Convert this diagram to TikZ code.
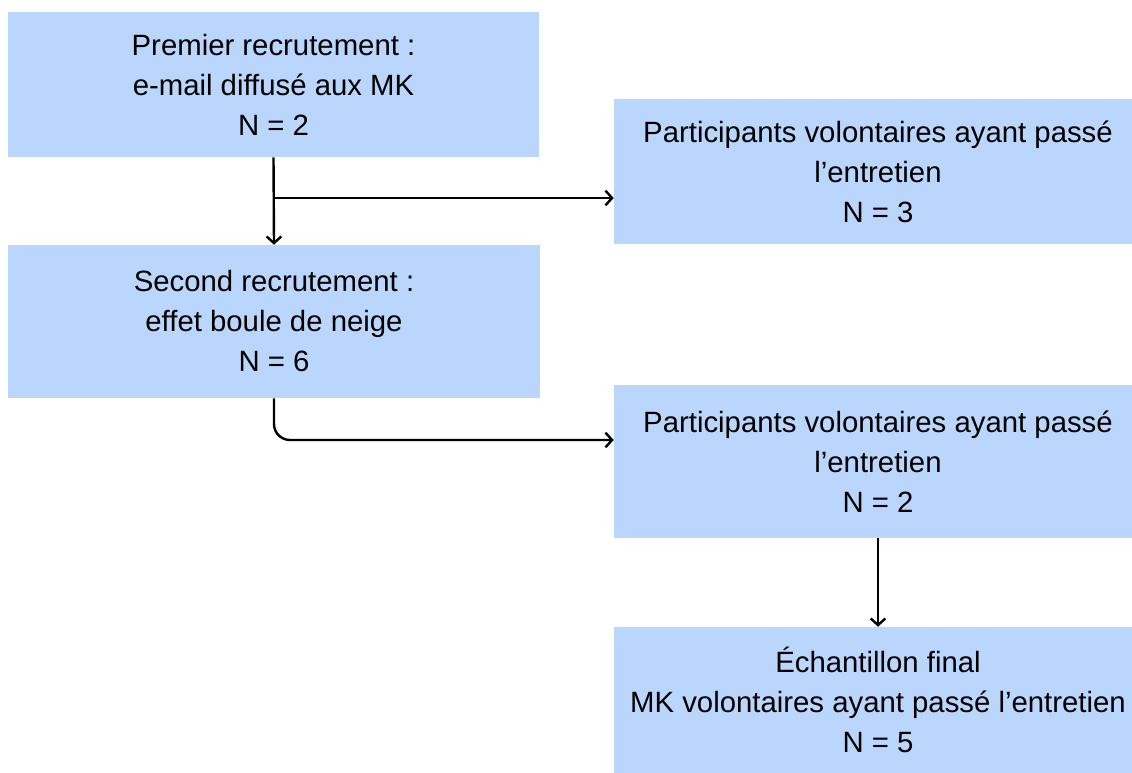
\documentclass[tikz,border=0pt]{standalone}
\usepackage{fontspec}
\setmainfont{Liberation Sans}
\usepackage{tikz}
\usetikzlibrary{calc,arrows.meta}
\definecolor{boxblue}{RGB}{186,214,252}

\begin{document}
\begin{tikzpicture}[x=0.75pt,y=-0.75pt,
		box/.style={fill=boxblue, draw=none, inner sep=0pt, align=center,
			font=\fontsize{22}{30}\selectfont},
		flow/.style={line width=1.8pt, -{Straight Barb[length=5pt,width=11pt]}}]
			\useasboundingbox (0,0) rectangle (1132,772);
			\node[box, minimum width=531*0.75pt, minimum height=145*0.75pt] (first) at (273.5,84.5) {Premier recrutement :\\ e-mail diffusé aux MK\\ N = 2};
			\node[box, minimum width=528*0.75pt, minimum height=145*0.75pt] (partA) at (878,171.5) {Participants volontaires ayant passé\\ l’entretien\\ N = 3};
			\node[box, minimum width=532*0.75pt, minimum height=153*0.75pt] (second) at (274,321.5) {Second recrutement :\\ effet boule de neige\\ N = 6};
			\node[box, minimum width=528*0.75pt, minimum height=153*0.75pt] (partB) at (878,461.5) {Participants volontaires ayant passé\\ l’entretien\\ N = 2};
			\node[box, minimum width=528*0.75pt, minimum height=146*0.75pt] (final) at (878,700) {Échantillon final\\ MK volontaires ayant passé l’entretien\\ N = 5};
			\coordinate (split) at (274,198);
			\draw[flow] (first.south) -- (second.north);
			\draw[flow] (split) -- (partA.west |- split);
			\draw[flow, rounded corners=12pt] (second.south) |- ($(partB.west)+(0,-21.5)$);
			\draw[flow] (partB.south) -- (final.north);
		\end{tikzpicture}
\end{document}
